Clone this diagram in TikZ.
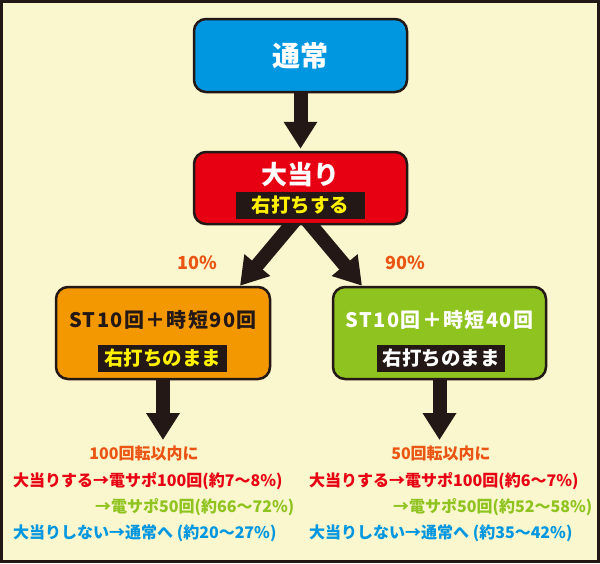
\documentclass[tikz,border=0pt]{standalone}
\usepackage{fontspec}
\setmainfont{Noto Sans CJK JP}
\usepackage{tikz}
\usetikzlibrary{arrows.meta}
\definecolor{ink}{HTML}{231815}
\definecolor{cream}{HTML}{FAF6CD}
\definecolor{tsujoblue}{HTML}{0097E0}
\definecolor{atarired}{HTML}{E60012}
\definecolor{storange}{HTML}{F39800}
\definecolor{stgreen}{HTML}{8FC31F}
\definecolor{pctorange}{HTML}{EA5514}
\definecolor{bandyellow}{HTML}{FFF100}
\pgfdeclarelayer{back}
\pgfdeclarelayer{arrowlayer}
\pgfsetlayers{back,arrowlayer,main}

\begin{document}
\begin{tikzpicture}[x=1pt,y=-1pt,
  box/.style={draw=ink, line width=2.5pt, rounded corners=12pt, minimum width=213pt},
  band/.style={fill=ink, inner sep=0pt, minimum height=27pt, font=\fontsize{19.5}{20}\selectfont\bfseries},
  title/.style={inner sep=0pt, font=\fontsize{20}{20}\selectfont\bfseries\addfontfeatures{LetterSpace=7}},
  pct/.style={inner sep=0pt, text=pctorange, font=\fontsize{18}{18}\selectfont\bfseries},
  res/.style={inner sep=0pt, font=\fontsize{16}{16}\selectfont\bfseries},
  bigarrow/.style={line width=14pt, draw=ink, -{Triangle[length=27pt,width=32pt]}}]
\useasboundingbox (0,0) rectangle (600,563);
\begin{pgfonlayer}{back}
\fill [cream] (0,0) rectangle (600,563);
\draw [ink, line width=3pt] (1.5,1.5) rectangle (598.5,561.5);
\end{pgfonlayer}

% boxes
\node [box, fill=tsujoblue, minimum height=73pt, text=white, font=\fontsize{28}{28}\selectfont\bfseries] (tsujo) at (300.5,55.5) {通常};
\node [box, fill=atarired, minimum height=72pt] (atari) at (300.5,188) {};
\node [inner sep=0pt, text=white, font=\fontsize{26}{26}\selectfont\bfseries] (ataritxt) at (300.5,175) {大当り};
\node [band, text=bandyellow, minimum width=129pt] (atariband) at (300.5,205) {右打ちする};

\node [box, fill=storange, minimum width=214pt, minimum height=92pt] (stL) at (163,333) {};
\node [title, text=ink] (stLtxt) at (163,320) {ST10回＋時短90回};
\node [band, text=bandyellow, minimum width=129pt] (stLband) at (162.5,358.5) {右打ちのまま};

\node [box, fill=stgreen, minimum width=213pt, minimum height=92pt] (stR) at (439.5,333) {};
\node [title, text=white] (stRtxt) at (439.5,320) {ST10回＋時短40回};
\node [band, text=white, minimum width=128pt] (stRband) at (441,358.5) {右打ちのまま};

% arrows
\coordinate (tipL) at (163,440);
\coordinate (tipR) at (439.5,440);
\begin{pgfonlayer}{arrowlayer}
\draw [bigarrow, shorten >=2pt] (tsujo.south) -- (atari.north);
\draw [bigarrow] ([xshift=-3pt,yshift=8pt]atari.south) -- ([xshift=77pt]stL.north);
\draw [bigarrow] ([xshift=4pt,yshift=8pt]atari.south) -- ([xshift=-77.5pt]stR.north);
\draw [bigarrow] (stL.south) -- (tipL);
\draw [bigarrow] (stR.south) -- (tipR);
\end{pgfonlayer}
\node [pct] (pctL) at (197,263) {10\%};
\node [pct] (pctR) at (405,263) {90\%};

% results
\node [res, text=pctorange] (limL) at (144,453) {100回転以内に};
\node [res, text=atarired, anchor=west] (hitL) at (13,481) {大当りする→電サポ100回(約7～8\%)};
\node [res, text=stgreen, anchor=west] (sapoL) at (95,507) {→電サポ50回(約66～72\%)};
\node [res, text=tsujoblue, anchor=west] (missL) at (13,533) {大当りしない→通常へ (約20～27\%)};

\node [res, text=pctorange] (limR) at (441,453) {50回転以内に};
\node [res, text=atarired, anchor=west] (hitR) at (309,481) {大当りする→電サポ100回(約6～7\%)};
\node [res, text=stgreen, anchor=west] (sapoR) at (393,507) {→電サポ50回(約52～58\%)};
\node [res, text=tsujoblue, anchor=west] (missR) at (309,533) {大当りしない→通常へ (約35～42\%)};
\end{tikzpicture}
\end{document}
